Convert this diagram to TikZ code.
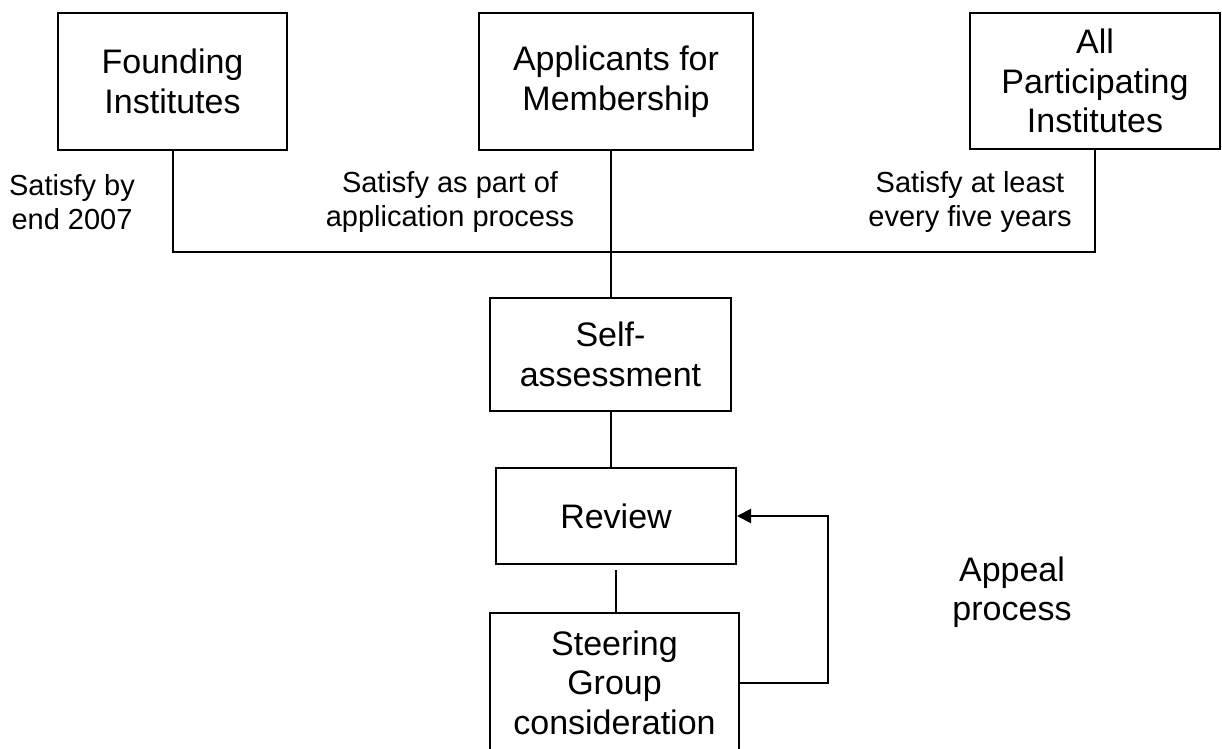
\documentclass[tikz,border=0pt]{standalone}
\usepackage{fontspec}
\setmainfont{Liberation Sans}
\usetikzlibrary{arrows.meta}

\begin{document}
\begin{tikzpicture}[x=0.5pt,y=-0.5pt]
\tikzset{
  box/.style={draw,line width=1pt,align=center,inner sep=0pt,
    font=\fontsize{17}{19.75}\selectfont},
  note/.style={align=center,inner sep=0pt,font=\fontsize{14.5}{17}\selectfont},
  link/.style={line width=1pt}
}
\useasboundingbox (0,0) rectangle (1222,749);
\clip (0,0) rectangle (1222,749);
% 上段の三つの箱
\node[box,minimum width=114.5pt,minimum height=68.5pt] (found) at (172.5,81.5) {Founding\\Institutes};
\node[box,minimum width=137pt,minimum height=68.5pt] (appl) at (616,81.5) {Applicants for\\Membership};
\node[box,minimum width=125pt,minimum height=68pt] (allpart) at (1095,81) {All\\Participating\\Institutes};
\node[note] (byend) at (72,202) {Satisfy by\\end 2007};
\node[note] (aspart) at (450,202) {Satisfy as part of\\application process};
\node[note] (fiveyr) at (970,202) {Satisfy at least\\every five years};
% 下の流れ
\node[box,minimum width=120.5pt,minimum height=56.5pt] (self) at (610.5,354.5) {Self-\\assessment};
\node[box,minimum width=120pt,minimum height=48pt] (review) at (616,516) {Review};
\node[box,minimum width=124.5pt,minimum height=69.5pt] (steer) at (614.5,682.5) {Steering\\Group\\consideration};
\node[box,draw=none] (appeal) at (1012,592) {Appeal\\process};
\coordinate (bus) at (0,252);
\draw[link] (found.south) -- (found.south |- bus) -- (allpart.south |- bus) -- (allpart.south);
\draw[link] (self.north |- appl.south) -- (self.north);
\draw[link] (self.south) -- (self.south |- review.north);
\draw[link] ([yshift=-2.5pt]review.south) -- (review.south |- steer.north);
\draw[link,-{Triangle[length=7pt,width=7pt]}] (steer.east) -- ++(88,0) |- (review.east); % 差し戻し
\end{tikzpicture}
\end{document}
